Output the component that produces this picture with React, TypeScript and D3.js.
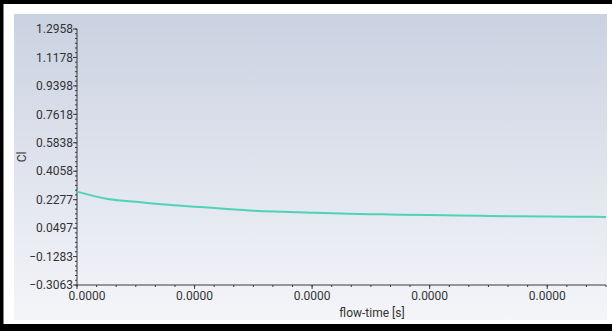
import React, { useEffect, useRef } from 'react';
import * as d3 from 'd3';

// flow-time [s] samples and lift coefficient
const flowTime = [
  0, 0.25e-6, 0.5e-6, 0.75e-6, 1.0e-6, 1.25e-6, 1.5e-6, 1.75e-6, 2.0e-6, 2.25e-6,
  2.5e-6, 2.75e-6, 3.0e-6, 3.25e-6, 3.5e-6, 3.75e-6, 4.0e-6, 4.25e-6, 4.5e-6,
];
const clValues = [
  0.278, 0.234, 0.215, 0.197, 0.184, 0.171, 0.159, 0.152, 0.146, 0.141,
  0.137, 0.134, 0.131, 0.128, 0.126, 0.124, 0.122, 0.121, 0.12,
];
const yTicks = [1.2958, 1.1178, 0.9398, 0.7618, 0.5838, 0.4058, 0.2277, 0.0497, -0.1283, -0.3063];
const xTicks = [0, 1e-6, 2e-6, 3e-6, 4e-6];
const xDomain = [0, 4.5e-6];
const yDomain = [-0.3063, 1.2958];
const xLabel = 'flow-time [s]';
const yLabel = 'Cl';

const W = 612;
const H = 331;
const FONT = 'Roboto, "Noto Sans", sans-serif';

export default function App() {
  const ref = useRef<SVGSVGElement>(null);

  useEffect(() => {
    const svg = d3.select(ref.current);
    svg.selectAll('*').remove();

    const plot = { left: 77, right: 606, top: 29, bottom: 285 };

    const defs = svg.append('defs');
    const grad = defs
      .append('linearGradient')
      .attr('id', 'bg')
      .attr('x1', 0)
      .attr('y1', 0)
      .attr('x2', 0)
      .attr('y2', 1);
    grad.append('stop').attr('offset', '0%').attr('stop-color', '#cad2e1');
    grad.append('stop').attr('offset', '100%').attr('stop-color', '#f4f5f9');

    svg.append('rect').attr('width', W).attr('height', H).attr('fill', '#ffffff');
    svg.append('rect')
      .attr('x', 14)
      .attr('y', 14)
      .attr('width', 593)
      .attr('height', 306)
      .attr('fill', 'url(#bg)');

    // black frame (left, top, bottom)
    svg.append('rect').attr('x', 0).attr('y', 0).attr('width', 3.5).attr('height', H).attr('fill', '#000');
    svg.append('rect').attr('x', 0).attr('y', 0).attr('width', W).attr('height', 4).attr('fill', '#000');
    svg.append('rect').attr('x', 0).attr('y', 324).attr('width', W).attr('height', 7).attr('fill', '#000');

    const x = d3.scaleLinear().domain(xDomain).range([plot.left, plot.right]);
    const y = d3.scaleLinear().domain(yDomain).range([plot.bottom, plot.top]);

    // minor ticks: 6 subdivisions between major ticks
    const xStep = xTicks[1] - xTicks[0];
    const xMinor: number[] = [];
    d3.range(0, Math.round((xDomain[1] - xDomain[0]) / (xStep / 6)) + 1).forEach((i) => {
      const v = xDomain[0] + (i * xStep) / 6;
      if (v <= xDomain[1] + 1e-12) xMinor.push(v);
    });
    const yStep = yTicks[0] - yTicks[1];
    const yMinor: number[] = [];
    d3.range(0, 9 * 6 + 1).forEach((i) => yMinor.push(yDomain[0] + (i * yStep) / 6));

    const axisColor = '#3a3a3a';

    // y axis
    svg.append('line')
      .attr('x1', plot.left)
      .attr('x2', plot.left)
      .attr('y1', plot.top)
      .attr('y2', plot.bottom)
      .attr('stroke', axisColor)
      .attr('stroke-width', 1);
    svg.append('g')
      .selectAll('line')
      .data(yMinor)
      .enter()
      .append('line')
      .attr('x1', plot.left - 2)
      .attr('x2', plot.left)
      .attr('y1', (d) => y(d))
      .attr('y2', (d) => y(d))
      .attr('stroke', axisColor);
    svg.append('g')
      .selectAll('line')
      .data(yTicks)
      .enter()
      .append('line')
      .attr('x1', plot.left - 4)
      .attr('x2', plot.left)
      .attr('y1', (d) => y(d))
      .attr('y2', (d) => y(d))
      .attr('stroke', axisColor);
    svg.append('g')
      .selectAll('text')
      .data(yTicks)
      .enter()
      .append('text')
      .attr('x', plot.left - 4)
      .attr('y', (d) => y(d))
      .attr('dy', '0.35em')
      .attr('text-anchor', 'end')
      .attr('font-family', FONT)
      .attr('font-size', 12)
      .attr('fill', '#333')
      .text((d) => d3.format('.4f')(d));

    // x axis
    svg.append('line')
      .attr('x1', plot.left)
      .attr('x2', plot.right)
      .attr('y1', plot.bottom)
      .attr('y2', plot.bottom)
      .attr('stroke', axisColor);
    svg.append('g')
      .selectAll('line')
      .data(xMinor)
      .enter()
      .append('line')
      .attr('x1', (d) => x(d))
      .attr('x2', (d) => x(d))
      .attr('y1', plot.bottom)
      .attr('y2', plot.bottom + 2)
      .attr('stroke', axisColor);
    svg.append('g')
      .selectAll('line')
      .data(xTicks)
      .enter()
      .append('line')
      .attr('x1', (d) => x(d))
      .attr('x2', (d) => x(d))
      .attr('y1', plot.bottom)
      .attr('y2', plot.bottom + 4)
      .attr('stroke', axisColor);
    svg.append('g')
      .selectAll('text')
      .data(xTicks)
      .enter()
      .append('text')
      .attr('x', (d, i) => x(d) + (i === 0 ? 10 : 0))
      .attr('y', plot.bottom + 15)
      .attr('text-anchor', 'middle')
      .attr('font-family', FONT)
      .attr('font-size', 12)
      .attr('fill', '#333')
      .text((d) => d3.format('.4f')(d));

    svg.append('text')
      .attr('x', 372)
      .attr('y', 317)
      .attr('text-anchor', 'middle')
      .attr('font-family', FONT)
      .attr('font-size', 12)
      .attr('fill', '#333')
      .text(xLabel);

    svg.append('text')
      .attr('transform', 'translate(26,' + (plot.top + plot.bottom) / 2 + ') rotate(-90)')
      .attr('text-anchor', 'middle')
      .attr('font-family', FONT)
      .attr('font-size', 12)
      .attr('fill', '#333')
      .text(yLabel);

    // Cl history
    const line = d3
      .line<number>()
      .x((_, i) => x(flowTime[i]))
      .y((d) => y(d))
      .curve(d3.curveMonotoneX);
    svg.append('path')
      .datum(clValues)
      .attr('d', line)
      .attr('fill', 'none')
      .attr('stroke', '#4fd3b7')
      .attr('stroke-width', 2);
  }, []);

  return (
    <svg
      ref={ref}
      width={W}
      height={H}
      style={{ position: 'absolute', left: 0, top: 0, display: 'block' }}
    />
  );
}
